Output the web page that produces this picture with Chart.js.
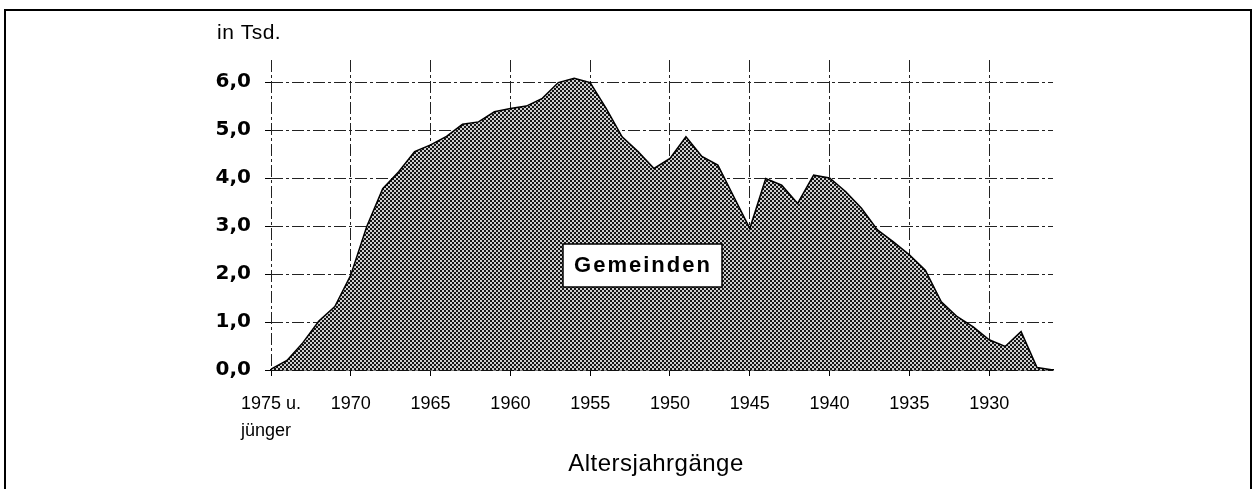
<!DOCTYPE html>
<html lang="de">
  <head>
    <meta charset="UTF-8" />
    <title>Gemeinden</title>
    <script src="https://cdn.jsdelivr.net/npm/chart.js@4.4.0/dist/chart.umd.min.js"></script>
    <style>
      html, body { margin: 0; padding: 0; background: #fff; overflow: hidden; }
    </style>
  </head>
  <body>
    <canvas id="grafico" width="1254" height="489"></canvas>
  </body>
  <script>
    // Jahrgänge 1975 (u. jünger) bis 1926
    var jahrgaenge = [
      "1975", "1974", "1973", "1972", "1971", "1970", "1969", "1968", "1967", "1966",
      "1965", "1964", "1963", "1962", "1961", "1960", "1959", "1958", "1957", "1956",
      "1955", "1954", "1953", "1952", "1951", "1950", "1949", "1948", "1947", "1946",
      "1945", "1944", "1943", "1942", "1941", "1940", "1939", "1938", "1937", "1936",
      "1935", "1934", "1933", "1932", "1931", "1930", "1929", "1928", "1927", "1926"
    ];
    // Gemeinden, in Tsd.
    var gemeinden = [
      0.02, 0.20, 0.57, 1.02, 1.32, 1.98, 2.99, 3.78, 4.13, 4.55,
      4.69, 4.87, 5.12, 5.17, 5.38, 5.45, 5.50, 5.66, 5.99, 6.08,
      5.99, 5.45, 4.86, 4.55, 4.20, 4.41, 4.86, 4.45, 4.27, 3.61,
      2.95, 3.99, 3.85, 3.47, 4.06, 4.00, 3.72, 3.37, 2.92, 2.67,
      2.40, 2.08, 1.42, 1.11, 0.90, 0.63, 0.49, 0.80, 0.05, 0.00
    ];
    var xBeschriftung = [
      ["1975 u.", "jünger  "], "1970", "1965", "1960", "1955",
      "1950", "1945", "1940", "1935", "1930"
    ];
    var yTicks = [0, 1, 2, 3, 4, 5, 6];

    // Raster-Muster fuer die Flaeche
    var pc = document.createElement("canvas");
    pc.width = 4;
    pc.height = 4;
    var p = pc.getContext("2d");
    p.fillStyle = "#141414";
    p.fillRect(0, 0, 4, 4);
    p.fillStyle = "#cfcfcf";
    p.fillRect(0, 0, 2, 2);
    p.fillRect(2, 2, 2, 2);
    var muster = p.createPattern(pc, "repeat");

    var texte = {
      id: "texte",
      afterDraw(chart) {
        const ctx = chart.ctx;
        ctx.save();
        // Rahmen
        ctx.strokeStyle = "#000";
        ctx.lineWidth = 2;
        ctx.strokeRect(5, 10, 1246, 490);
        ctx.fillStyle = "#000";
        ctx.textBaseline = "middle";
        ctx.textAlign = "left";
        ctx.font = "21px 'Liberation Sans'";
        ctx.letterSpacing = "0.5px";
        ctx.fillText("in Tsd.", 217, 33);
        ctx.textAlign = "center";
        ctx.font = "24px 'Liberation Sans'";
        ctx.letterSpacing = "0.5px";
        ctx.fillText("Altersjahrgänge", 656, 464);
        // Beschriftung Gemeinden
        ctx.fillStyle = "#fff";
        ctx.fillRect(563, 244, 159, 43);
        ctx.lineWidth = 1.5;
        ctx.strokeRect(563, 244, 159, 43);
        ctx.fillStyle = "#000";
        ctx.font = "bold 22px 'Liberation Sans'";
        ctx.letterSpacing = "2px";
        ctx.fillText("Gemeinden", 643, 266);
        ctx.restore();
      },
    };

    new Chart(document.getElementById("grafico"), {
      type: "line",
      data: {
        labels: jahrgaenge,
        datasets: [
          {
            label: "Gemeinden",
            data: gemeinden,
            fill: "origin",
            backgroundColor: muster,
            borderColor: "#000",
            borderWidth: 1.5,
            pointRadius: 0,
            tension: 0,
          },
        ],
      },
      options: {
        responsive: false,
        animation: false,
        devicePixelRatio: 1,
        layout: { padding: { left: 0, right: 201, top: 60, bottom: 0 } },
        plugins: {
          legend: { display: false },
          tooltip: { enabled: false },
        },
        scales: {
          x: {
            offset: false,
            afterBuildTicks(scale) {
              scale.ticks = scale.ticks.filter((t) => t.value % 5 === 0);
            },
            afterFit(scale) {
              scale.height = 119;
            },
            ticks: {
              autoSkip: false,
              maxRotation: 0,
              padding: 15,
              color: "#000",
              font: { family: "'Liberation Sans'", size: 18, lineHeight: 1.5 },
              callback: function (value) {
                return xBeschriftung[value / 5];
              },
            },
            grid: {
              color: "#222",
              lineWidth: 1,
              tickLength: 6,
              tickColor: "#000",
            },
            border: { display: true, color: "#000", width: 1.5, dash: [12, 3, 3, 3] },
          },
          y: {
            min: 0,
            max: 6.46,
            afterBuildTicks(scale) {
              scale.ticks = yTicks.map((v) => ({ value: v }));
            },
            afterFit(scale) {
              scale.width = 271;
            },
            ticks: {
              padding: 14,
              color: "#000",
              font: { family: "'DejaVu Sans'", size: 20, weight: "bold" },
              callback: function (value) {
                return value.toFixed(1).replace(".", ",");
              },
            },
            grid: {
              color: "#222",
              lineWidth: 1,
              tickLength: 6,
              tickColor: "#000",
            },
            border: { display: false, dash: [12, 3, 3, 3] },
          },
        },
      },
      plugins: [texte],
    });
  </script>
</html>
